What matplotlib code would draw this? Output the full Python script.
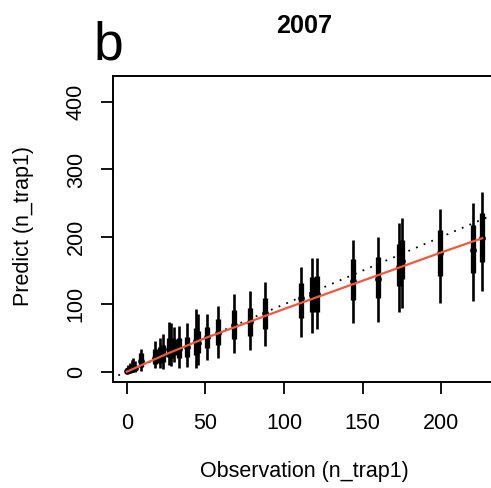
import numpy as np
import matplotlib
matplotlib.use("Agg")
import matplotlib.pyplot as plt

# ---- data (panel b, 2007) ----
# observed counts and posterior prediction summaries (median, 50% and 95% intervals)
obs   = [0, 1, 2, 3, 4, 5, 9, 18, 21, 23, 27, 28, 30, 33, 38, 44, 45, 51, 58, 68, 78, 88,
         111, 118, 121, 144, 160, 173, 175, 199, 220, 226]
med   = [1, 2, 3, 4, 5, 5, 16, 20, 22, 25, 34, 33, 35, 33, 36, 45, 42, 51, 57, 69, 74, 87,
         110, 114, 116, 135, 137, 156, 164, 176, 180, 198]
lo50  = [0, 0, 1, 1, 2, 2, 7, 12, 13, 14, 22, 20, 25, 20, 22, 25, 28, 35, 40, 48, 53, 64,
         79, 88, 88, 107, 109, 127, 137, 142, 147, 163]
hi50  = [3, 5, 6, 8, 9, 9, 28, 33, 37, 40, 50, 50, 48, 50, 52, 65, 60, 67, 78, 91, 95, 110,
         131, 141, 142, 167, 170, 189, 195, 210, 218, 235]
lo95  = [0, 0, 0, 0, 0, 0, 1, 5, 5, 4, 10, 8, 15, 5, 7, 6, 10, 18, 21, 27, 32, 38,
         52, 58, 63, 72, 74, 89, 94, 102, 105, 120]
hi95  = [6, 10, 13, 18, 20, 16, 34, 46, 50, 56, 74, 72, 66, 68, 72, 93, 85, 86, 98, 115, 119, 133,
         156, 168, 168, 196, 200, 220, 228, 241, 251, 267]

# fitted relation (red line), read at a few points
fit_x = [0, 25, 50, 100, 150, 200, 226]
fit_y = [0, 26, 50, 93, 135, 177, 198]

x_ticks = [0, 50, 100, 150, 200]
y_ticks = [0, 100, 200, 300, 400]

plt.rcParams['font.family'] = ['Liberation Sans', 'DejaVu Sans']

W, H = 491, 488
fig = plt.figure(figsize=(W / 100, H / 100), dpi=100)

# plot region (right edge runs slightly past the canvas, as in the original)
left, right, bottom, top = 112.7, 496.4, 382, 76
ax = fig.add_axes([left / W, 1 - bottom / H, (right - left) / W, (bottom - top) / H])

# 1:1 line
ax.plot([-20, 300], [-20, 300], color='black', lw=1.3, linestyle=(0, (1, 3.6)), zorder=1)

# intervals
for x, m, a50, b50, a95, b95 in zip(obs, med, lo50, hi50, lo95, hi95):
    ax.plot([x, x], [a95, b95], color='black', lw=1.9, solid_capstyle='butt', zorder=2)
    ax.plot([x, x], [a50, b50], color='black', lw=3.8, solid_capstyle='butt', zorder=3)
ax.plot(obs, med, 'o', color='black', ms=3.8, zorder=4)

# fitted line
ax.plot(fit_x, fit_y, color='#F4583C', lw=1.6, zorder=5)

ax.set_xlim(-9.0, 235.0)
ax.set_ylim(-15.3, 438.7)
ax.set_xticks(x_ticks)
ax.set_yticks(y_ticks)
ax.set_xticklabels([str(v) for v in x_ticks], fontsize=15.5)
ax.set_yticklabels([str(v) for v in y_ticks], fontsize=15.5, rotation=90, va='center')
ax.tick_params(axis='both', direction='out', length=8.6, width=1.3, color='black')
ax.tick_params(axis='x', pad=14)
ax.tick_params(axis='y', pad=10)
for sp in ax.spines.values():
    sp.set_linewidth(1.4)

fig.text(304.5 / W, 1 - 33 / H, '2007', fontsize=18.2, fontweight='bold',
         ha='center', va='baseline')
fig.text(93.5 / W, 1 - 59 / H, 'b', fontsize=38.5, ha='left', va='baseline')
fig.text(304 / W, 1 - 472 / H, 'Observation (n_trap1)', fontsize=15.5,
         ha='center', va='center')
fig.text(24 / W, 1 - 226 / H, 'Predict (n_trap1)', fontsize=15.5,
         ha='center', va='center', rotation=90)

fig.savefig('out.png', dpi=100)
